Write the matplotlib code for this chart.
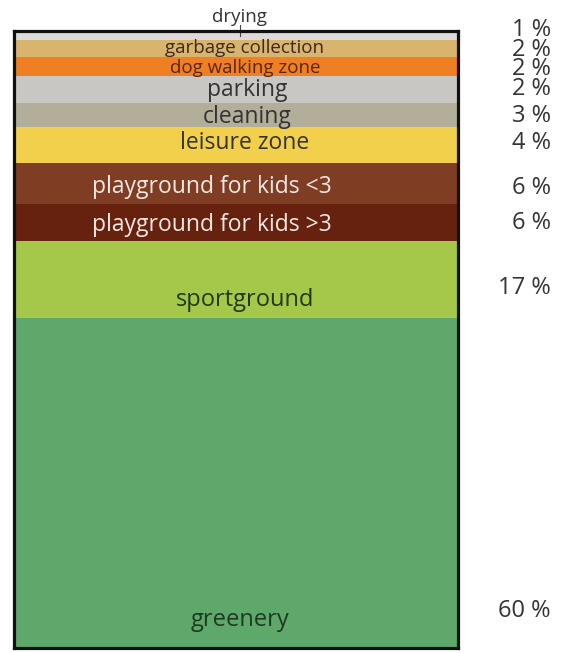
import matplotlib
matplotlib.use("Agg")
import matplotlib.pyplot as plt

plt.rcParams['font.family'] = ['Open Sans', 'DejaVu Sans']

# ---- data (top to bottom) ----
categories = ["drying", "garbage collection", "dog walking zone", "parking",
              "cleaning", "leisure zone", "playground for kids <3",
              "playground for kids >3", "sportground", "greenery"]
percent_values = [1, 2, 2, 2, 3, 4, 6, 6, 17, 60]
# drawn band sizes (not proportional to the labels)
band_sizes = [9, 17, 19, 27, 24, 36, 41, 37, 77, 330]

# ---- styles ----
fill_colors = ["#dcdbd8", "#d9b46f", "#ee7f23", "#c9c7c3", "#b3ae99",
               "#f3d04b", "#7f3d24", "#66220e", "#a5c74a", "#5fa86b"]
text_colors = ["#333333", "#3d2a18", "#5a2410", "#333333", "#333333",
               "#333333", "#f2e9e4", "#f2e9e4", "#1f3a14", "#1f3a20"]
text_sizes = [13.5, 13.5, 13.5, 16.5, 16.5, 16.5, 16.5, 16.5, 17, 17]
# label layout: (x in axes fraction, y offset in band units from band centre)
label_x = [0.51, 0.52, 0.52, 0.525, 0.525, 0.52, 0.445, 0.445, 0.52, 0.51]
label_dy = [0, -0.5, 1.5, 0.5, 2, -2, 3.5, 2.5, 20, 137]
pct_dy = [-5.5, 1.5, 2.5, -0.5, 1, -2, 4.5, 0.5, 8.5, 128]

fig = plt.figure(figsize=(5.73, 6.53), dpi=100)
W, H = 573, 653
left, right, top, bottom = 14, 458, 31, 648
ax = fig.add_axes([left / W, (H - bottom) / H, (right - left) / W, (bottom - top) / H])

total = sum(band_sizes)
starts = []
acc = 0
for s in band_sizes:
    starts.append(acc)
    acc += s

ax.bar([0] * len(band_sizes), band_sizes, bottom=starts, width=1.0,
       color=fill_colors, edgecolor='none', align='center')
ax.set_xlim(-0.5, 0.5)
ax.set_ylim(total, 0)
ax.set_xticks([])
ax.set_yticks([])
for sp in ax.spines.values():
    sp.set_linewidth(2.3)
    sp.set_color('#111111')

for i, name in enumerate(categories):
    yc = starts[i] + band_sizes[i] / 2
    pct_txt = f"{percent_values[i]} %"
    ax.text(1.209, yc + pct_dy[i], pct_txt, transform=ax.get_yaxis_transform(),
            ha='right', va='center', fontsize=17, color='#333333', clip_on=False)
    if i == 0:
        # drying label sits above the box with a short leader line
        ax.text(0.508, -14, name, transform=ax.get_yaxis_transform(),
                ha='center', va='center', fontsize=text_sizes[i],
                color=text_colors[i], clip_on=False)
        ax.plot([0.508, 0.508], [-6, 5], transform=ax.get_yaxis_transform(),
                color='#444444', lw=0.8, clip_on=False)
        continue
    ax.text(label_x[i], yc + label_dy[i], name, transform=ax.get_yaxis_transform(),
            ha='center', va='center', fontsize=text_sizes[i], color=text_colors[i])

fig.savefig("out.png", dpi=100)
